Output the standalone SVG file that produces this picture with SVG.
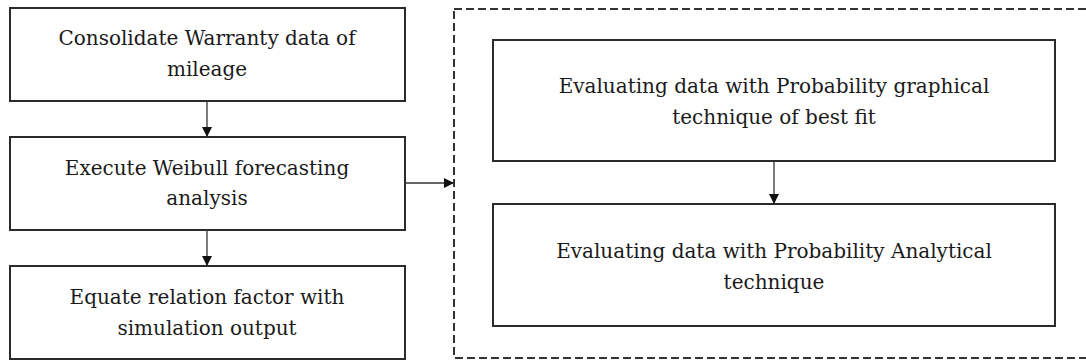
<svg xmlns="http://www.w3.org/2000/svg" width="1086" height="363" viewBox="0 0 1086 363">
<style>
.box{fill:#fff;stroke:#2b2b2b;stroke-width:2}
.t{font-family:"DejaVu Serif","Liberation Serif",serif;font-size:20px;fill:#1a1a1a;text-anchor:middle}
.c{stroke:#333;stroke-width:1.3;fill:none}
</style>
<defs>
<marker id="ah" markerWidth="10" markerHeight="10" refX="9" refY="5" orient="auto" markerUnits="userSpaceOnUse">
<path d="M0,0 L10,5 L0,10 Z" fill="#111"/>
</marker>
</defs>
<rect width="1086" height="363" fill="#fff"/>
<g id="container">
<rect x="454" y="9" width="640" height="349" fill="none" stroke="#333" stroke-width="2" stroke-dasharray="8 4"/>
</g>
<g id="n1">
<rect class="box" x="10" y="8" width="395" height="93"/>
<text class="t" x="207" y="45">Consolidate Warranty data of</text>
<text class="t" x="207" y="76">mileage</text>
</g>
<g id="n2">
<rect class="box" x="10" y="137" width="395" height="93"/>
<text class="t" x="207" y="175">Execute Weibull forecasting</text>
<text class="t" x="207" y="205">analysis</text>
</g>
<g id="n3">
<rect class="box" x="10" y="266" width="395" height="93"/>
<text class="t" x="207" y="304">Equate relation factor with</text>
<text class="t" x="207" y="335">simulation output</text>
</g>
<g id="n4">
<rect class="box" x="493" y="40" width="562" height="121"/>
<text class="t" x="774" y="93">Evaluating data with Probability graphical</text>
<text class="t" x="774" y="124">technique of best fit</text>
</g>
<g id="n5">
<rect class="box" x="493" y="204" width="562" height="122"/>
<text class="t" x="774" y="258">Evaluating data with Probability Analytical</text>
<text class="t" x="774" y="289">technique</text>
</g>
<g id="connectors">
<line class="c" x1="207" y1="101" x2="207" y2="136" marker-end="url(#ah)"/>
<line class="c" x1="207" y1="230" x2="207" y2="265" marker-end="url(#ah)"/>
<line class="c" x1="405" y1="183" x2="453" y2="183" marker-end="url(#ah)"/>
<line class="c" x1="774" y1="161" x2="774" y2="203" marker-end="url(#ah)"/>
</g>
</svg>
